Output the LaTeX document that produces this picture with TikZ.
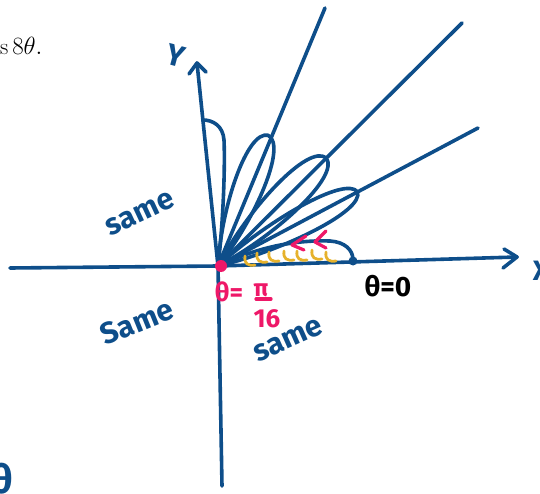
\documentclass[tikz,border=0pt]{standalone}
\usepackage{fontspec}
\newfontfamily\handfont{Fira Sans}
\usetikzlibrary{calc}
\definecolor{inkblue}{RGB}{14,78,138}
\definecolor{inkpink}{RGB}{238,24,104}
\definecolor{inkyellow}{RGB}{230,178,44}
\begin{document}
\begin{tikzpicture}[x=1pt,y=-1pt,line cap=round,line join=round,
  ink/.style={draw=inkblue,line width=3.6pt},
  yel/.style={draw=inkyellow,line width=2.8pt},
  pnk/.style={draw=inkpink,line width=3.2pt},
  hand/.style={font=\handfont\bfseries\fontsize{#1}{#1}\selectfont, inner sep=0pt}]
\useasboundingbox (0,0) rectangle (540,494);
% axes
\coordinate (O) at (218,266);
\coordinate (ytop) at (197,63);
\coordinate (ybot) at (222,486);
\coordinate (xleft) at (10,268);
\coordinate (xright) at (517,257);
\coordinate (ya) at (189,74);
\coordinate (yb) at (206,72);
\coordinate (xa) at (504,249);
\coordinate (xb) at (503,268);
\draw[ink] (xleft) -- (O) -- (xright);
\draw[ink] (ybot) -- (O) -- (ytop);
\draw[ink] (ya) -- (ytop) -- (yb);
\draw[ink] (xa) -- (xright) -- (xb);
% rays
\coordinate (r1) at (325,8);
\coordinate (r2) at (462,23);
\coordinate (r3) at (478,128);
\draw[ink] (O) -- (r1);
\draw[ink] (O) -- (r2);
\draw[ink] (O) -- (r3);
% full petals
\foreach \a/\L/\w in {69/140/15, 45/153/16, 28/158/14} {
  \draw[ink, shift={(O)}, rotate=\a] (0,0) .. controls ({0.4*\L},{1.2*\w}) and ({0.98*\L},{1.45*\w}) .. (\L,0)
     .. controls ({0.98*\L},{-1.45*\w}) and ({0.4*\L},{-1.2*\w}) .. (0,0);
}
% half petals
\draw[ink] (O) .. controls (224,215) and (225,160) .. (224,140) .. controls (223,126) and (213,120) .. (203,120);
\draw[ink] (O) .. controls (262,245) and (300,240) .. (330,241) .. controls (345,242) and (353,250) .. (353,260);
\fill[inkblue] (353,261) circle (4.5);
% yellow marks
\foreach \x/\y in {245/256, 257/253, 269/252, 284/251, 297/251, 312/250, 326/252} {
  \draw[yel] (\x,\y) .. controls (\x-1,\y+8) and (\x+3,\y+10) .. (\x+10,\y+9);
}
% pink marks
\draw[pnk] (306,236) -- (292,245) -- (304,250);
\draw[pnk] (326,231) -- (315,242) -- (326,248);
\fill[inkpink] (221,266) circle (6);
% labels
\node[hand=30, text=inkblue, rotate=25] (same1) at (140,214) {same};
\node[hand=30, text=inkblue, rotate=22] (same2) at (137,322) {Same};
\node[hand=30, text=inkblue, rotate=24] (same3) at (288,340) {same};
\node[hand=30, text=inkblue, rotate=-15] (ylab) at (176,56) {Y};
\node[hand=28, text=inkblue] (xlab) at (541,271) {X};
\node[hand=40, text=inkblue] (thbot) at (2,479) {θ};
\node[hand=28, text=black] (th0) at (388,286) {θ=0};
\node[hand=26, text=inkpink] (thpi) at (229,292) {θ=};
\node[hand=24, text=inkpink] (pinum) at (261,290) {π};
\draw[pnk] (256,299) -- (271,299);
\node[hand=26, text=inkpink] (piden) at (267,319) {16};
\node[font=\fontsize{23}{23}\selectfont, anchor=base west, inner sep=0pt] (caption) at (0,55) {s\,$8\theta.$};
\end{tikzpicture}
\end{document}
